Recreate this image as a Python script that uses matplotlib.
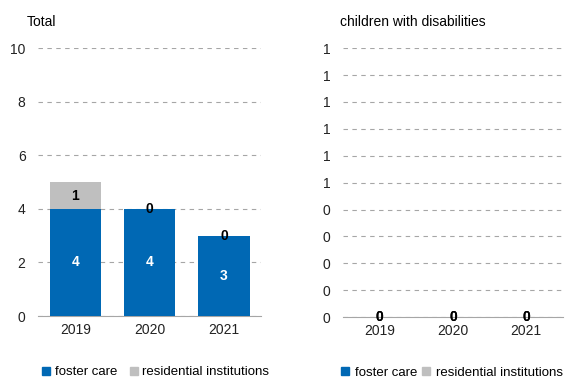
import numpy as np
import matplotlib.pyplot as plt
from matplotlib.lines import Line2D

plt.rcParams['font.family'] = ['Liberation Sans', 'DejaVu Sans']

# data
years = ['2019', '2020', '2021']
total_foster = [4, 4, 3]
total_resid = [1, 0, 0]
dis_foster = [0, 0, 0]
dis_resid = [0, 0, 0]
dis_ticklabels = ['0', '0', '0', '0', '0', '1', '1', '1', '1', '1', '1']

blue = '#0068b4'
grey = '#bfbfbf'

fig = plt.figure(figsize=(5.68, 3.79), dpi=100)
ax1 = fig.add_axes([0.067, 0.166, 0.393, 0.707])
ax2 = fig.add_axes([0.604, 0.163, 0.387, 0.71])


def draw(ax, foster, resid, ymax, ticks, ticklabels):
    x = np.arange(len(years))
    ax.bar(x, foster, width=0.69, color=blue, zorder=3)
    ax.bar(x, resid, width=0.69, bottom=foster, color=grey, zorder=3)
    for i in range(len(years)):
        if foster[i] > 0:
            ax.text(x[i], foster[i] / 2, str(foster[i]), ha='center', va='center',
                    color='white', fontweight='bold', fontsize=10, zorder=4)
        else:
            ax.text(x[i], 0, str(foster[i]), ha='center', va='center',
                    color='black', fontweight='bold', fontsize=10, zorder=4)
        ax.text(x[i], foster[i] + resid[i] / 2, str(resid[i]), ha='center', va='center',
                color='black', fontweight='bold', fontsize=10, zorder=4)
    ax.set_xlim(-0.5, len(years) - 0.5)
    ax.set_ylim(0, ymax)
    ax.set_yticks(ticks)
    ax.set_yticklabels(ticklabels)
    ax.set_xticks(x)
    ax.set_xticklabels(years)
    ax.tick_params(length=0, labelsize=10, colors='#222222')
    ax.tick_params(axis='y', pad=9)
    ax.tick_params(axis='x', pad=5)
    for s in ['top', 'right', 'left']:
        ax.spines[s].set_visible(False)
    ax.spines['bottom'].set_color('#a6a6a6')
    ax.grid(axis='y', color='#a6a6a6', linestyle=(0, (4, 4)), linewidth=0.8, zorder=0)
    ax.set_axisbelow(True)


draw(ax1, total_foster, total_resid, 10, [0, 2, 4, 6, 8, 10],
     ['0', '2', '4', '6', '8', '10'])
draw(ax2, dis_foster, dis_resid, 1, np.linspace(0, 1, 11), dis_ticklabels)

fig.text(0.047, 0.942, 'Total', fontsize=10, va='center')
fig.text(0.598, 0.942, 'children with disabilities', fontsize=10, va='center')

handles = [Line2D([], [], marker='s', linestyle='', color=blue, markersize=6),
           Line2D([], [], marker='s', linestyle='', color=grey, markersize=6)]
labels = ['foster care', 'residential institutions']
fig.legend(handles, labels, loc='center left', bbox_to_anchor=(0.073, 0.018), ncol=2,
           frameon=False, fontsize=9.5, handlelength=0.7, handletextpad=0.3,
           columnspacing=0.9, borderaxespad=0, borderpad=0)
fig.legend(handles, labels, loc='center left', bbox_to_anchor=(0.6, 0.016), ncol=2,
           frameon=False, fontsize=9.5, handlelength=0.7, handletextpad=0.35,
           columnspacing=0.35, borderaxespad=0, borderpad=0)

fig.savefig('out.png', dpi=100)
